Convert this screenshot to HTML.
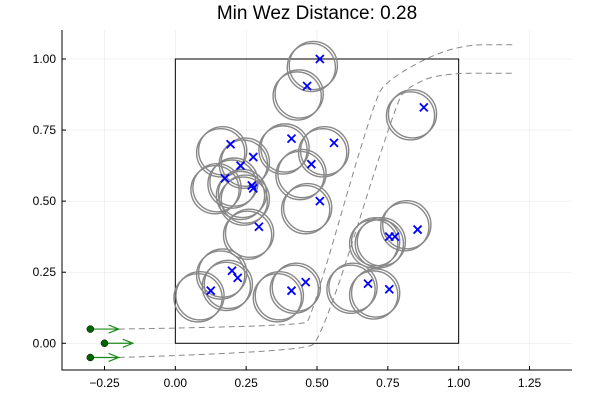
<!DOCTYPE html>
<html><head><meta charset="utf-8"><style>
body{margin:0;background:#fff}
svg{display:block;font-family:"Liberation Sans",sans-serif}
</style></head><body>
<svg id="c" width="600" height="400">
<text x="317" y="19" text-anchor="middle" font-size="19">Min Wez Distance: 0.28</text>
<g id="grid"></g><g id="box"></g><g id="paths"></g><g id="circles"></g><g id="marks"></g><g id="agents"></g><g id="axes"></g>
</svg>
<script>
const xTicks=[-0.25,0,0.25,0.5,0.75,1,1.25];
const xTickLabels=["−0.25","0.00","0.25","0.50","0.75","1.00","1.25"];
const yTicks=[0,0.25,0.5,0.75,1];
const yTickLabels=["0.00","0.25","0.50","0.75","1.00"];
const targetX=[0.51,0.465,0.877,0.41,0.56,0.195,0.275,0.23,0.48,0.175,0.27,0.275,0.51,0.295,0.20,0.22,0.125,0.41,0.46,0.68,0.755,0.775,0.855,0.755];
const targetY=[1.0,0.905,0.83,0.72,0.705,0.70,0.655,0.625,0.63,0.58,0.555,0.545,0.50,0.41,0.255,0.23,0.185,0.185,0.215,0.21,0.375,0.375,0.40,0.19];
const circleX=[0.48,0.43,0.83,0.38,0.52,0.16,0.24,0.20,0.44,0.14,0.23,0.24,0.46,0.255,0.16,0.18,0.08,0.36,0.42,0.62,0.70,0.72,0.81,0.70];
const circleY=[0.97,0.87,0.80,0.68,0.67,0.67,0.63,0.56,0.59,0.54,0.52,0.50,0.47,0.38,0.24,0.20,0.16,0.16,0.19,0.19,0.35,0.35,0.41,0.17];
const upperPathX=[-0.2,0.45,0.48,0.70,0.75,0.98,1.2];
const upperPathY=[0.05,0.06,0.09,0.85,0.93,1.05,1.05];
const lowerPathX=[-0.2,0.45,0.52,0.78,0.82,0.93,1.2];
const lowerPathY=[-0.05,-0.03,0.02,0.85,0.90,0.95,0.95];
const agentX=[-0.3,-0.25,-0.3];
const agentY=[0.05,0,-0.05];
const R=0.085;
const X0=62,X1=572,Y0=30,Y1=370,xmin=-0.4,xmax=1.4,ymin=-0.094,ymax=1.102;
const sx=v=>X0+(v-xmin)/(xmax-xmin)*(X1-X0);
const sy=v=>Y1-(v-ymin)/(ymax-ymin)*(Y1-Y0);
const NS="http://www.w3.org/2000/svg";
function mk(p,t,a){const e=document.createElementNS(NS,t);for(const k in a)e.setAttribute(k,a[k]);document.getElementById(p).appendChild(e);return e;}
xTicks.forEach((t,i)=>{
 const g=mk('grid','line',{x1:sx(t),x2:sx(t),y1:Y0,y2:Y1,stroke:'#000','stroke-opacity':0.1,'stroke-width':0.5});
 
 
 mk('axes','line',{x1:sx(t),x2:sx(t),y1:Y1,y2:Y1-4,stroke:'#000'});
 const l=mk('axes','text',{x:sx(t),y:Y1+17,'text-anchor':'middle','font-size':12});
 l.textContent=xTickLabels[i];
 
 
});
yTicks.forEach((t,i)=>{
 const g=mk('grid','line',{x1:X0,x2:X1,y1:sy(t),y2:sy(t),stroke:'#000','stroke-opacity':0.1,'stroke-width':0.5});
 
 
 mk('axes','line',{x1:X0,x2:X0+4,y1:sy(t),y2:sy(t),stroke:'#000'});
 const l=mk('axes','text',{x:X0-6,y:sy(t)+4,'text-anchor':'end','font-size':12});
 l.textContent=yTickLabels[i];
 
 
});
const ax=mk('axes','path',{d:`M${X0},${Y0}V${Y1}H${X1}`,fill:'none',stroke:'#000','stroke-width':1});


const bx=mk('box','rect',{x:sx(0),y:sy(1),width:sx(1)-sx(0),height:sy(0)-sy(1),fill:'none',stroke:'#000'});


[[upperPathX,upperPathY,'upper-trajectory'],[lowerPathX,lowerPathY,'lower-trajectory']].forEach(([px,py,n])=>{
 let d=`M${sx(px[0])},${sy(py[0])}`;
 for(let i=1;i<px.length-1;i++){const mx=(sx(px[i])+sx(px[i+1]))/2,my=(sy(py[i])+sy(py[i+1]))/2;d+=` Q${sx(px[i])},${sy(py[i])} ${mx},${my}`;}
 d+=` L${sx(px[px.length-1])},${sy(py[py.length-1])}`;
 const p=mk('paths','path',{d,fill:'none',stroke:'#888','stroke-dasharray':'6,4','stroke-width':1});
 
 
});
const rp=R*(X1-X0)/(xmax-xmin);
circleX.forEach((cx,i)=>{
 for(let k=0;k<2;k++){
  const c=mk('circles','circle',{cx:sx(cx)+k*2,cy:sy(circleY[i])-k*2,r:rp,fill:'none',stroke:'#888','stroke-width':1.4});
  
  
 }
});
targetX.forEach((tx,i)=>{
 const x=sx(tx),y=sy(targetY[i]);
 const p=mk('marks','path',{d:`M${x-4},${y-4}L${x+4},${y+4}M${x-4},${y+4}L${x+4},${y-4}`,stroke:'#00f','stroke-width':1.8});
 
 
});
agentX.forEach((axv,i)=>{
 const x=sx(axv),y=sy(agentY[i]),x2=sx(axv+0.1);
 const a=mk('agents','path',{d:`M${x},${y}H${x2}M${x2-10},${y-4}L${x2},${y}L${x2-10},${y+4}`,fill:'none',stroke:'#1a8a1a','stroke-width':1.2});
 
 
 const c=mk('agents','circle',{cx:x,cy:y,r:3.5,fill:'#006400',stroke:'#000','stroke-width':0.5});
 
 
});
</script>
</body></html>
